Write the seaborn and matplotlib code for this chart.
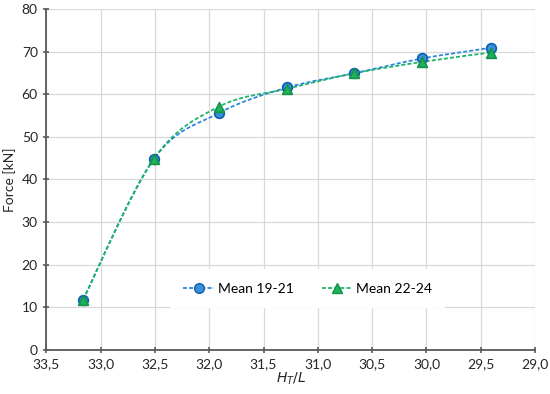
import numpy as np
import pandas as pd
import matplotlib
matplotlib.use("Agg")
import matplotlib.pyplot as plt
from matplotlib.path import Path
from matplotlib.patches import PathPatch
from matplotlib.lines import Line2D
from matplotlib.ticker import FuncFormatter
import seaborn as sns

# dane
ht_l = [33.16, 32.51, 31.91, 31.28, 30.67, 30.04, 29.41]
mean_19_21 = [11.8, 44.8, 55.6, 61.6, 64.9, 68.4, 70.9]
mean_22_24 = [11.8, 44.8, 57.1, 61.3, 64.9, 67.6, 69.8]
series_names = ["Mean 19-21", "Mean 22-24"]

df = pd.DataFrame({
    "ht_l": ht_l * 2,
    "force": mean_19_21 + mean_22_24,
    "series": [series_names[0]] * len(ht_l) + [series_names[1]] * len(ht_l),
})

styles = {
    "Mean 19-21": dict(line="#2E86DE", face="#3A8FD9", edge="#0B5FB0", marker="o", size=7),
    "Mean 22-24": dict(line="#1DB36B", face="#20B25A", edge="#14934A", marker="^", size=7),
}


def smooth_path(x, y):
    # wygładzona linia jak w Excelu (krzywe Beziera przez punkty)
    pts = np.column_stack([x, y]).astype(float)
    n = len(pts)
    verts = [pts[0]]
    codes = [Path.MOVETO]
    for i in range(n - 1):
        p0 = pts[i - 1] if i > 0 else pts[i]
        p1 = pts[i]
        p2 = pts[i + 1]
        p3 = pts[i + 2] if i + 2 < n else pts[i + 1]
        c1 = p1 + (p2 - p0) / 6.0
        c2 = p2 - (p3 - p1) / 6.0
        verts += [c1, c2, p2]
        codes += [Path.CURVE4] * 3
    return Path(verts, codes)


plt.rcParams["font.family"] = ["Lato", "DejaVu Sans"]
fig = plt.figure(figsize=(5.5, 3.94), dpi=100)
ax = fig.add_axes([0.084, 0.112, 0.889, 0.865])

for name, group in df.groupby("series"):
    st = styles[name]
    patch = PathPatch(smooth_path(group["ht_l"], group["force"]), facecolor="none",
                      edgecolor=st["line"], lw=1.3, linestyle=(0, (2.2, 1.2)), zorder=3)
    ax.add_patch(patch)

for name in series_names:
    st = styles[name]
    sub = df[df["series"] == name]
    sns.scatterplot(data=sub, x="ht_l", y="force", ax=ax, marker=st["marker"],
                    s=st["size"] ** 2, color=st["face"], edgecolor=st["edge"],
                    linewidth=1.2, zorder=4, legend=False)

ax.set_xlim(33.5, 29.0)
ax.set_ylim(0, 80)
ax.set_xticks(np.arange(29.0, 33.51, 0.5))
ax.set_yticks(np.arange(0, 81, 10))
ax.xaxis.set_major_formatter(FuncFormatter(lambda v, p: f"{v:.1f}".replace(".", ",")))
ax.grid(True, color="#D9D9D9", lw=0.9)
ax.set_axisbelow(True)
for s in ["top", "right"]:
    ax.spines[s].set_visible(False)
for s in ["left", "bottom"]:
    ax.spines[s].set_color("#595959")
    ax.spines[s].set_linewidth(1.3)
ax.tick_params(axis="both", colors="#595959", labelcolor="#262626", labelsize=10,
               length=5, width=1.2, direction="inout")

ax.set_xlabel("$H_T/L$", fontsize=10, color="#262626", labelpad=0)
ax.set_ylabel("Force [kN]", fontsize=10, color="#262626", labelpad=4)

handles = []
for name in series_names:
    st = styles[name]
    handles.append(Line2D([0], [0], color=st["line"], lw=1.3, linestyle=(0, (2.2, 1.2)),
                          marker=st["marker"], markersize=st["size"],
                          markerfacecolor=st["face"], markeredgecolor=st["edge"]))
leg = ax.legend(handles, series_names, loc="center", bbox_to_anchor=(0.535, 0.18), ncol=2,
                frameon=True, fontsize=10, handlelength=2.2, columnspacing=2.0,
                borderpad=1.0, handletextpad=0.3)
leg.get_frame().set_edgecolor("none")
leg.get_frame().set_facecolor("white")
leg.get_frame().set_alpha(1)

fig.savefig("out.png", dpi=100)
